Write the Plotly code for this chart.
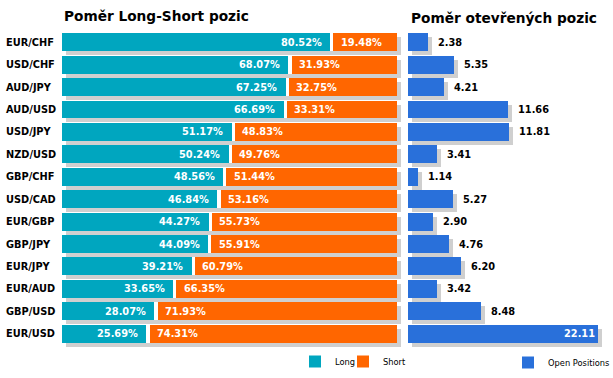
import plotly.graph_objects as go

# ---------------- data ----------------
pairs = ["EUR/CHF", "USD/CHF", "AUD/JPY", "AUD/USD", "USD/JPY", "NZD/USD", "GBP/CHF",
         "USD/CAD", "EUR/GBP", "GBP/JPY", "EUR/JPY", "EUR/AUD", "GBP/USD", "EUR/USD"]
long_pct = [80.52, 68.07, 67.25, 66.69, 51.17, 50.24, 48.56, 46.84, 44.27, 44.09, 39.21, 33.65, 28.07, 25.69]
short_pct = [19.48, 31.93, 32.75, 33.31, 48.83, 49.76, 51.44, 53.16, 55.73, 55.91, 60.79, 66.35, 71.93, 74.31]
open_pos = [2.38, 5.35, 4.21, 11.66, 11.81, 3.41, 1.14, 5.27, 2.90, 4.76, 6.20, 3.42, 8.48, 22.11]

title_left = "Poměr Long-Short pozic"
title_right = "Poměr otevřených pozic"

# ---------------- styling / layout constants ----------------
W, H = 613, 378
TEAL, ORANGE, BLUE, SHADOW = "#00A6BF", "#FF6600", "#2970DA", "#CFCFCF"
FONT = "DejaVu Sans"

ROW0, PITCH = 42.3, 22.42          # px: centre of first row, row pitch
BAR_W = 0.80                       # bar thickness (category units)
SH_DX, SH_DY = 4, 4                # shadow offset in px
L_X0, L_PPU = 62, 3.35             # left chart: start px, px per percent
R_X0, R_PPU = 408, 8.58            # right chart: start px, px per unit
GAP = 1.0                          # gap between long & short (percent units)

n = len(pairs)
y_top, y_bot = -0.5, n - 0.25
y_dom = [1 - (ROW0 + y_bot * PITCH) / H, 1 - (ROW0 + y_top * PITCH) / H]

l_range = 100 + (SH_DX + 1.5) / L_PPU
l_dom = [L_X0 / W, (L_X0 + l_range * L_PPU) / W]
r_range = (W - R_X0) / R_PPU
r_dom = [R_X0 / W, 1.0]

dy = SH_DY / PITCH
l_dx = SH_DX / L_PPU
r_dx = SH_DX / R_PPU
off = -BAR_W / 2

totals = [a + b for a, b in zip(long_pct, short_pct)]

fig = go.Figure()

# left chart: shadow, white backing, long, short
fig.add_trace(go.Bar(y=pairs, x=totals, base=[l_dx] * n, orientation="h", width=BAR_W,
                     offset=off + dy, marker=dict(color=SHADOW, line_width=0),
                     showlegend=False, hoverinfo="skip", xaxis="x", yaxis="y"))
fig.add_trace(go.Bar(y=pairs, x=totals, base=[0] * n, orientation="h", width=BAR_W,
                     offset=off, marker=dict(color="white", line_width=0),
                     showlegend=False, hoverinfo="skip", xaxis="x", yaxis="y"))
fig.add_trace(go.Bar(name="Long", y=pairs, x=[v - GAP / 2 for v in long_pct], base=[0] * n,
                     orientation="h", width=BAR_W, offset=off,
                     marker=dict(color=TEAL, line_width=0), legend="legend",
                     xaxis="x", yaxis="y"))
fig.add_trace(go.Bar(name="Short", y=pairs, x=[v - GAP / 2 for v in short_pct],
                     base=[v + GAP / 2 for v in long_pct], orientation="h", width=BAR_W,
                     offset=off, marker=dict(color=ORANGE, line_width=0), legend="legend2",
                     xaxis="x", yaxis="y"))

# right chart: shadow, bars
fig.add_trace(go.Bar(y=pairs, x=open_pos, base=[r_dx] * n, orientation="h", width=BAR_W,
                     offset=off + dy, marker=dict(color=SHADOW, line_width=0),
                     showlegend=False, hoverinfo="skip", xaxis="x2", yaxis="y"))
fig.add_trace(go.Bar(name="Open Positions", y=pairs, x=open_pos, base=[0] * n,
                     orientation="h", width=BAR_W, offset=off,
                     marker=dict(color=BLUE, line_width=0), legend="legend3",
                     xaxis="x2", yaxis="y"))

ann = []
lab_font = dict(family=FONT, size=9.8, color="white", weight="bold")
for p, lv, sv in zip(pairs, long_pct, short_pct):
    ann.append(dict(x=lv, y=p, xref="x", yref="y", text=f"{lv:.2f}%", showarrow=False,
                    xanchor="right", yanchor="middle", xshift=-8, font=lab_font))
    ann.append(dict(x=lv, y=p, xref="x", yref="y", text=f"{sv:.2f}%",
                    showarrow=False, xanchor="left", yanchor="middle", xshift=7,
                    font=lab_font))
for p, v in zip(pairs, open_pos):
    inside = v + 4.0 > r_range
    ann.append(dict(x=v, y=p, xref="x2", yref="y", text=f"{v:.2f}", showarrow=False,
                    xanchor="right" if inside else "left", yanchor="middle",
                    xshift=-1 if inside else 8,
                    font=dict(family=FONT, size=9.8, weight="bold",
                              color="white" if inside else "black")))

title_font = dict(family=FONT, size=13.7, color="black", weight="bold")
ann.append(dict(x=62 / W, y=1 - 16 / H, xref="paper", yref="paper", text=title_left,
                showarrow=False, xanchor="left", yanchor="middle", font=title_font))
ann.append(dict(x=409 / W, y=1 - 18 / H, xref="paper", yref="paper", text=title_right,
                showarrow=False, xanchor="left", yanchor="middle", font=title_font))

leg_font = dict(family=FONT, size=8.3, color="black")


def leg(xpx, ypx):
    return dict(orientation="h", x=xpx / W, y=1 - ypx / H, xanchor="left", yanchor="top",
                font=leg_font, bgcolor="rgba(0,0,0,0)", itemclick=False,
                itemdoubleclick=False)


fig.update_layout(
    width=W, height=H, margin=dict(l=0, r=0, t=0, b=0, autoexpand=False),
    paper_bgcolor="white", plot_bgcolor="white",
    barmode="overlay", bargap=0,
    annotations=ann,
    xaxis=dict(domain=l_dom, range=[0, l_range], visible=False, fixedrange=True),
    xaxis2=dict(domain=r_dom, range=[0, r_range], visible=False, anchor="y", fixedrange=True),
    yaxis=dict(domain=y_dom, range=[y_bot, y_top], type="category",
               categoryorder="array", categoryarray=pairs, fixedrange=True,
               anchor="free", position=2 / W, ticklabelposition="inside",
               ticks="", showgrid=False, zeroline=False, showline=False,
               tickfont=dict(family=FONT, size=9.8, color="black", weight="bold")),
    legend=leg(295, 347),
    legend2=leg(343, 347),
    legend3=leg(508, 348),
    showlegend=True,
)

fig.write_html("out.html", post_script="document.body.style.margin='0';",
               config={"displayModeBar": False})
